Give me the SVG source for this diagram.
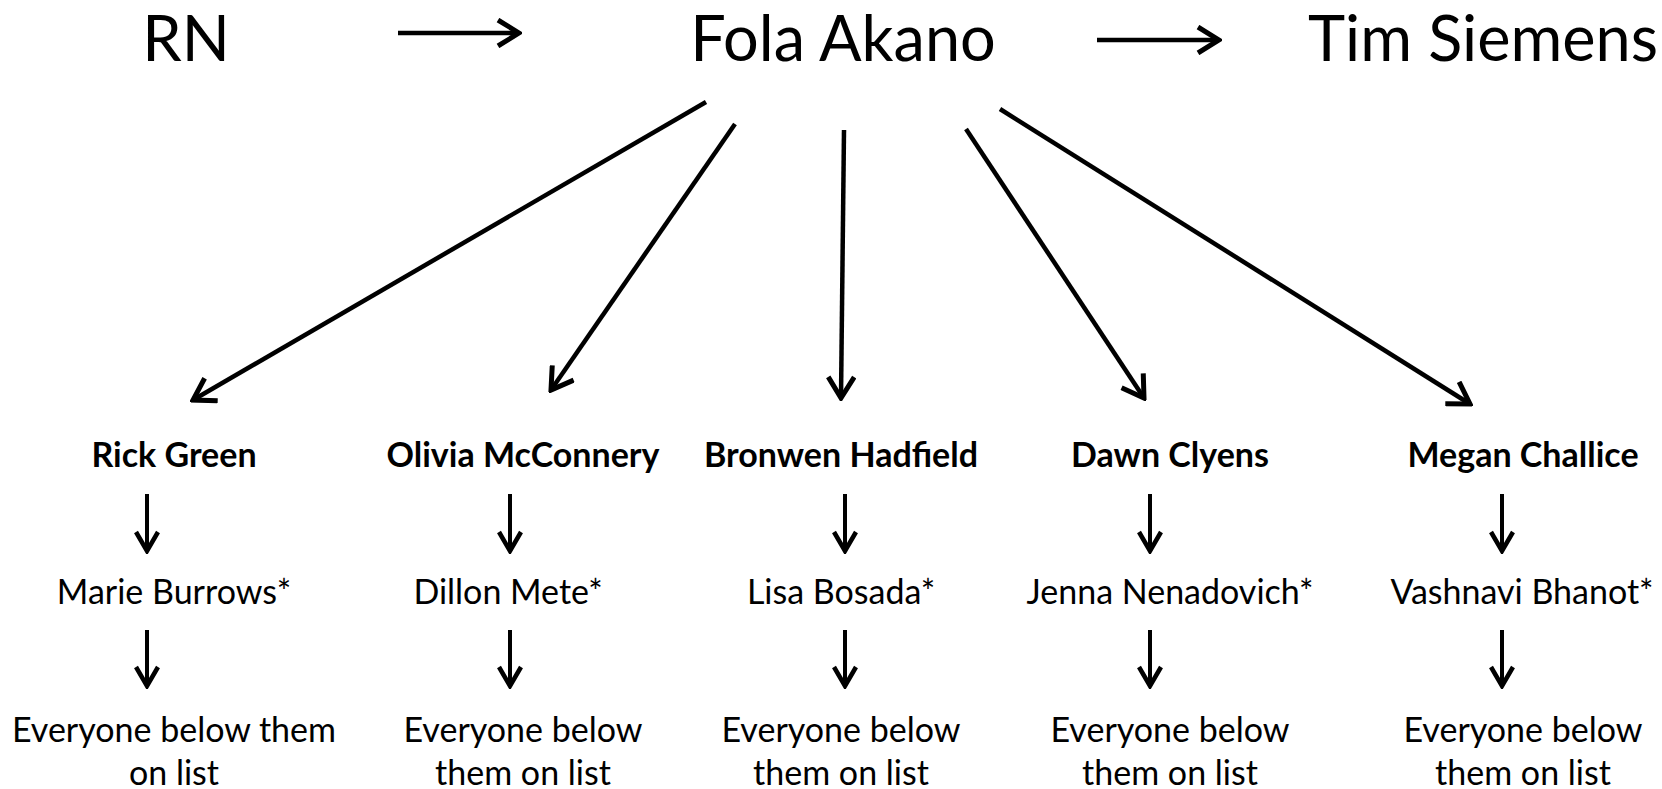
<svg xmlns="http://www.w3.org/2000/svg" width="1662" height="789" viewBox="0 0 1662 789">
<defs>
<marker id="ah" viewBox="0 0 26 30" refX="23" refY="15" markerWidth="26" markerHeight="30" markerUnits="userSpaceOnUse" orient="auto">
<path d="M2,2 L23,15 L2,28" fill="none" stroke="#000" stroke-width="5"/>
</marker>
<marker id="ahs" viewBox="0 0 24 26" refX="21" refY="13" markerWidth="24" markerHeight="26" markerUnits="userSpaceOnUse" orient="auto">
<path d="M2,2 L21,13 L2,24" fill="none" stroke="#000" stroke-width="4.5"/>
</marker>
</defs>
<style>
text{font-family:Lato,"Open Sans",sans-serif;fill:#000;text-anchor:middle}
.big{font-size:63px}
.b{font-size:34px;font-weight:bold}
.r{font-size:34px}
.c{stroke:#000;stroke-width:4.5;fill:none;marker-end:url(#ah)}
.d{stroke:#000;stroke-width:4;fill:none;marker-end:url(#ahs)}
</style>
<rect width="1662" height="789" fill="#fff"/>
<g id="n-rn"><text class="big" x="186" y="61">RN</text></g>
<g id="n-fola"><text class="big" x="843" y="61">Fola Akano</text></g>
<g id="n-tim"><text class="big" x="1483" y="61">Tim Siemens</text></g>
<g id="n-rick"><text class="b" x="174" y="467">Rick Green</text></g>
<g id="n-olivia"><text class="b" x="523" y="467">Olivia McConnery</text></g>
<g id="n-bronwen"><text class="b" x="841" y="467">Bronwen Hadfield</text></g>
<g id="n-dawn"><text class="b" x="1170" y="467">Dawn Clyens</text></g>
<g id="n-megan"><text class="b" x="1523" y="467">Megan Challice</text></g>
<g id="n-marie"><text class="r" x="174" y="604">Marie Burrows*</text></g>
<g id="n-dillon"><text class="r" x="508" y="604">Dillon Mete*</text></g>
<g id="n-lisa"><text class="r" x="841" y="604">Lisa Bosada*</text></g>
<g id="n-jenna"><text class="r" x="1170" y="604">Jenna Nenadovich*</text></g>
<g id="n-vashnavi"><text class="r" x="1522" y="604">Vashnavi Bhanot*</text></g>
<g id="n-e1"><text class="r" x="174" y="742">Everyone below them</text><text class="r" x="174" y="785">on list</text></g>
<g id="n-e2"><text class="r" x="523" y="742">Everyone below</text><text class="r" x="523" y="785">them on list</text></g>
<g id="n-e3"><text class="r" x="841" y="742">Everyone below</text><text class="r" x="841" y="785">them on list</text></g>
<g id="n-e4"><text class="r" x="1170" y="742">Everyone below</text><text class="r" x="1170" y="785">them on list</text></g>
<g id="n-e5"><text class="r" x="1523" y="742">Everyone below</text><text class="r" x="1523" y="785">them on list</text></g>
<g id="connectors">
<line class="c" x1="398" y1="33" x2="519" y2="33"/>
<line class="c" x1="1097" y1="40" x2="1219" y2="40"/>
<line class="c" x1="706" y1="102" x2="193" y2="400"/>
<line class="c" x1="735" y1="124" x2="551" y2="390"/>
<line class="c" x1="844" y1="130" x2="841" y2="398"/>
<line class="c" x1="966" y1="129" x2="1144" y2="398"/>
<line class="c" x1="1000" y1="109" x2="1470" y2="404"/>
<line class="d" x1="147" y1="494" x2="147" y2="551"/>
<line class="d" x1="510" y1="494" x2="510" y2="551"/>
<line class="d" x1="845" y1="494" x2="845" y2="551"/>
<line class="d" x1="1150" y1="494" x2="1150" y2="551"/>
<line class="d" x1="1502" y1="494" x2="1502" y2="551"/>
<line class="d" x1="147" y1="630" x2="147" y2="686"/>
<line class="d" x1="510" y1="630" x2="510" y2="686"/>
<line class="d" x1="845" y1="630" x2="845" y2="686"/>
<line class="d" x1="1150" y1="630" x2="1150" y2="686"/>
<line class="d" x1="1502" y1="630" x2="1502" y2="686"/>
</g>
</svg>
